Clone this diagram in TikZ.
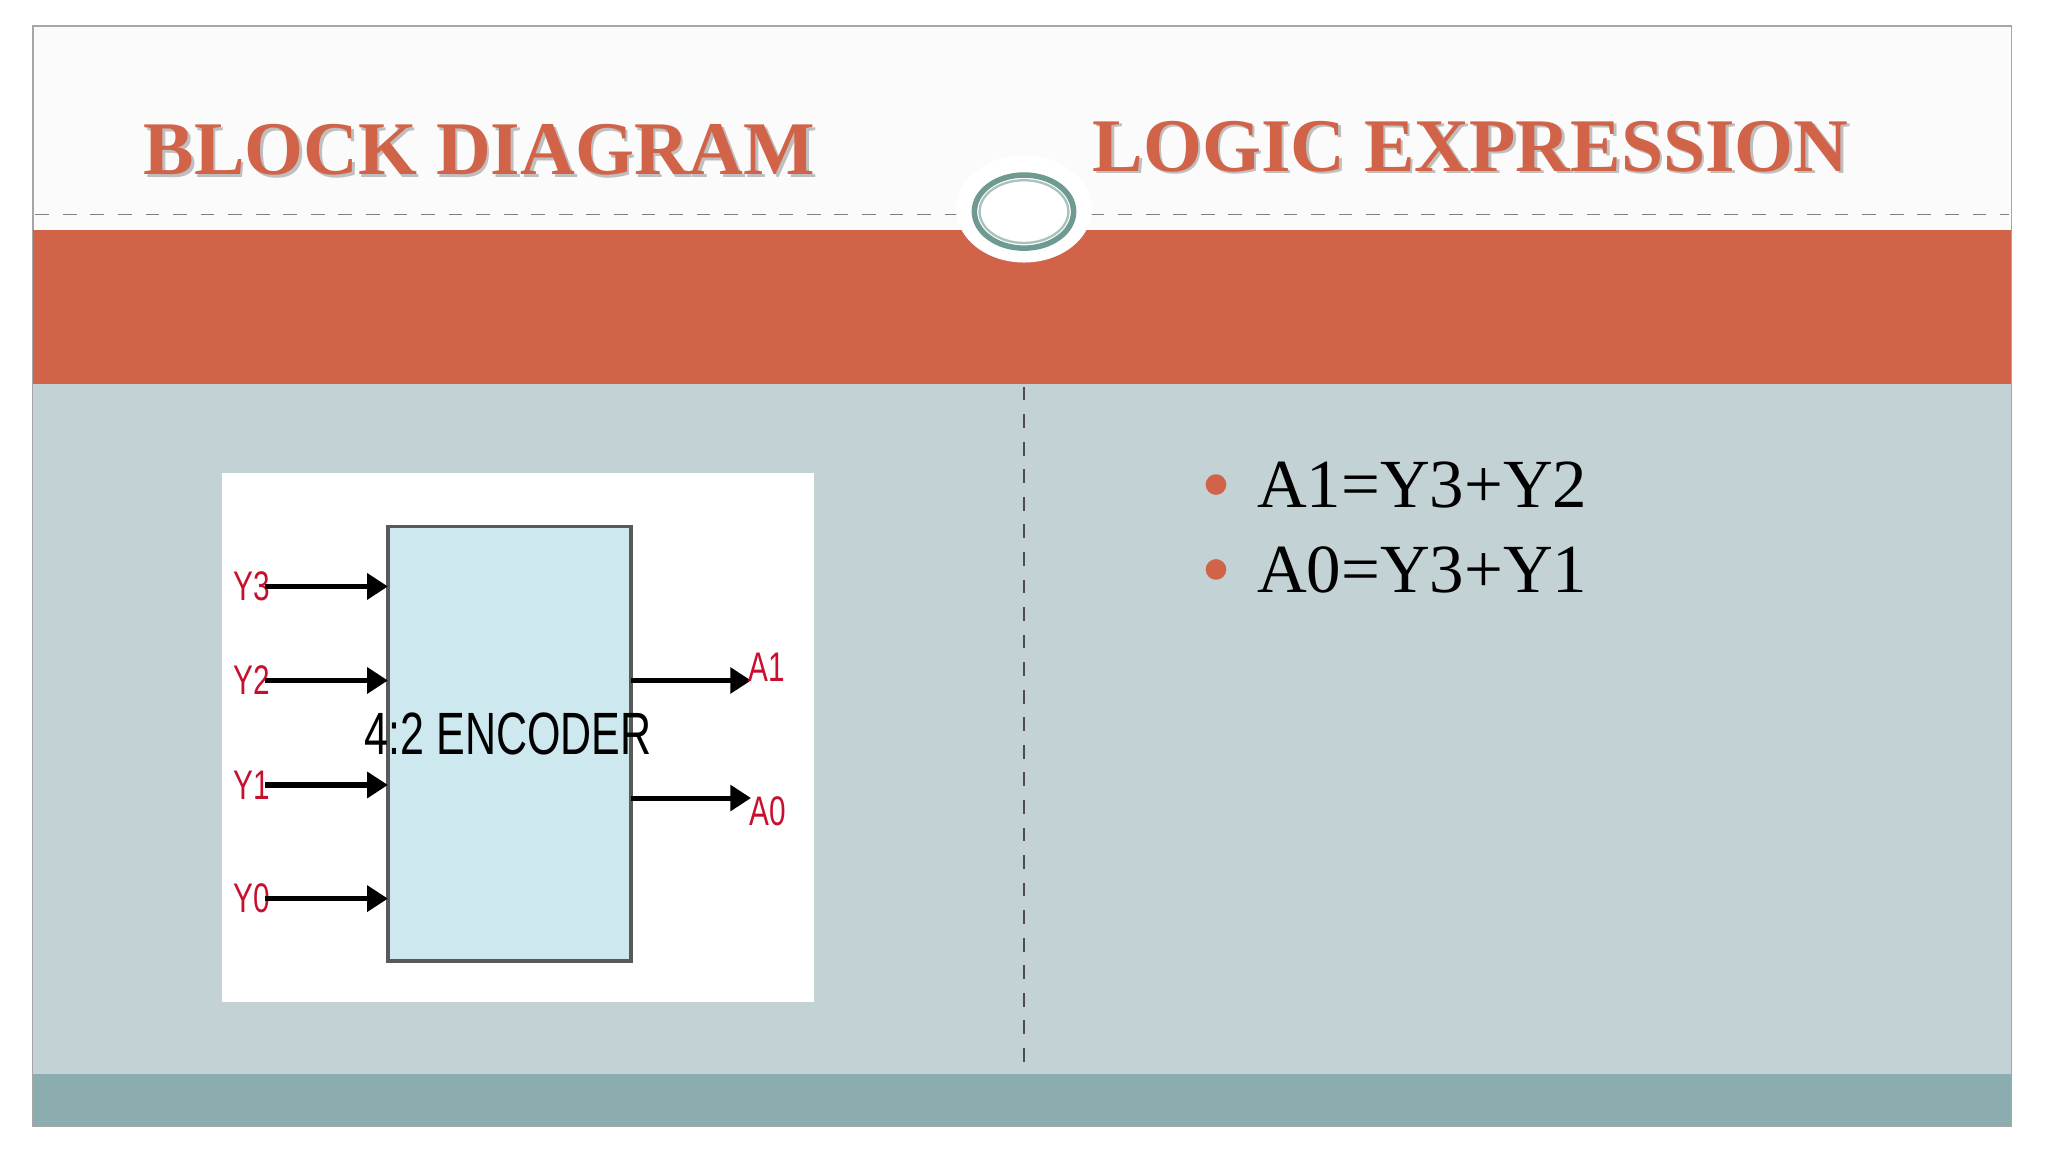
\documentclass[tikz,border=0pt]{standalone}
\usepackage{fontspec}
\setmainfont{Liberation Serif}
\newfontfamily\narrowsans[FakeStretch=0.72]{Liberation Sans}
\usetikzlibrary{arrows.meta}
\definecolor{orng}{HTML}{D16349}
\definecolor{bodyc}{HTML}{C3D3D5}
\definecolor{botc}{HTML}{8BADAF}
\definecolor{boxc}{HTML}{CDE9EF}
\definecolor{ringc}{HTML}{6E9A92}
\definecolor{lblred}{HTML}{C8102E}
\tikzset{
 title/.style={font=\bfseries\fontsize{16.5}{18}\selectfont, text=orng},
 shadowt/.style={font=\bfseries\fontsize{16.5}{18}\selectfont, text=black!25},
 inarrow/.style={line width=1.1pt,-{Triangle[length=4.5pt,width=5.5pt]}},
 lbl/.style={font=\narrowsans\fontsize{9}{9}\selectfont, text=lblred},
 eq/.style={font=\fontsize{15}{17}\selectfont, anchor=west},
 dot/.style={circle, fill=orng, inner sep=0pt, minimum size=4.5pt}
}
\begin{document}
\begin{tikzpicture}[x=0.01cm,y=-0.01cm]
\useasboundingbox (0,0) rectangle (1568,882);
\fill[white] (0,0) rectangle (1568,882);
\fill[white!97!gray] (25,20) rectangle (1540,176);
\draw[gray!70] (25,20) rectangle (1540,862);
\fill[orng] (25,176) rectangle (1540,294);
\fill[bodyc] (25,294) rectangle (1540,822);
\fill[botc] (25,822) rectangle (1540,862);
\draw[gray, dashed, line width=0.3pt] (27,164) -- (735,164);
\draw[gray, dashed, line width=0.3pt] (835,164) -- (1538,164);
\draw[gray!60!black, dashed, line width=0.3pt] (784,296) -- (784,822);
% ornament
\fill[white] (784,160) ellipse (52 and 41);
\draw[ringc, line width=1.2pt] (784,162) ellipse (38 and 28);
\draw[ringc!60, line width=0.5pt] (784,162) ellipse (34 and 24);
% titles
\node[shadowt] at (369,117) {BLOCK DIAGRAM};
\node[title] (t1) at (367,115) {BLOCK DIAGRAM};
\node[shadowt] at (1128,114) {LOGIC EXPRESSION};
\node[title] (t2) at (1126,112) {LOGIC EXPRESSION};
% image
\fill[white] (170,362) rectangle (623,767);
\node[draw=black!65, line width=0.8pt, fill=boxc, minimum width=186*0.01cm, minimum height=333*0.01cm, inner sep=0pt] (enc) at (390,569.5) {};
\node[font=\narrowsans\fontsize{13}{13}\selectfont] at (389,562) {4:2 ENCODER};
\foreach \n/\yy in {Y3/449,Y2/521,Y1/601,Y0/688}{
 \node[lbl] (\n) at (193,\yy) {\n};
 \coordinate (e\n) at (297,\yy);
 \draw[inarrow] (203,\yy) -- (e\n);
}
\coordinate (oA1) at (483,521);
\coordinate (oA0) at (483,611);
\coordinate (tA1) at (575,521);
\coordinate (tA0) at (575,611);
\draw[inarrow] (oA1) -- (tA1);
\draw[inarrow] (oA0) -- (tA0);
\node[lbl] (A1) at (587,511) {A1};
\node[lbl] (A0) at (588,621) {A0};
% equations
\node[dot] (b1) at (931,371) {};
\node[eq] (q1) at (950,371) {A1=Y3+Y2};
\node[dot] (b2) at (931,436) {};
\node[eq] (q2) at (950,436) {A0=Y3+Y1};
\end{tikzpicture}
\end{document}
